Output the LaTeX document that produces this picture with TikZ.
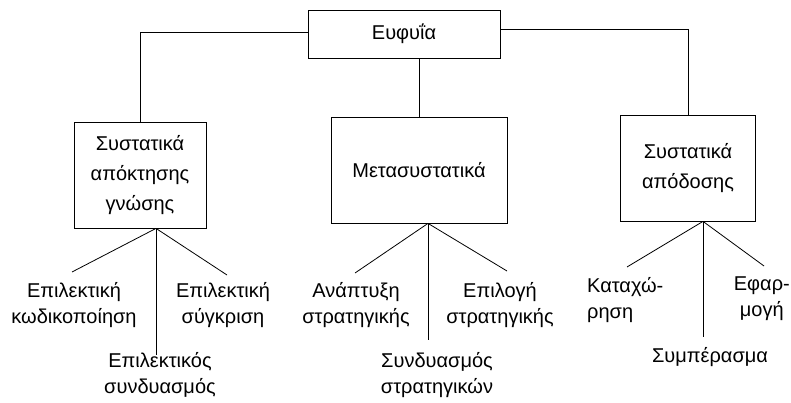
\documentclass[tikz,border=0pt]{standalone}
\usepackage{fontspec}
\setmainfont{Liberation Sans}
\usetikzlibrary{positioning}
\newcommand{\boxfont}{\fontsize{20}{30}\selectfont}
\newcommand{\leaffont}{\fontsize{20}{26}\selectfont}
\tikzset{
  box/.style={draw,line width=0.8pt,minimum height=106pt,align=center,inner sep=3pt,font=\boxfont},
  leaf/.style={align=center,inner sep=0pt,font=\leaffont},
  ln/.style={line width=0.8pt}
}

\begin{document}
\begin{tikzpicture}[x=1pt,y=-1pt]
\useasboundingbox (0,0) rectangle (791,403);
% top and the three groups
\node[box,minimum width=192pt,minimum height=48pt] (top) at (404,34) {Ευφυΐα};
\node[box,minimum width=132pt] (lbox) at (140,175) {Συστατικά\\απόκτησης\\γνώσης};
\node[box,minimum width=176pt] (mbox) at (419,170) {Μετασυστατικά};
\node[box,minimum width=135pt] (rbox) at (688,168) {Συστατικά\\απόδοσης};
\draw[ln] ([yshift=2pt]top.west) -| (lbox.north);
\draw[ln] ([yshift=5pt]top.east) -| (rbox.north);
\draw[ln] (top.south -| mbox.north) -- (mbox.north);
% leaves
\node[leaf] (ta) at (74,305) {Επιλεκτική\\κωδικοποίηση};
\node[leaf] (tb) at (223,305) {Επιλεκτική\\σύγκριση};
\node[leaf] (tc) at (160,375) {Επιλεκτικός\\συνδυασμός};
\node[leaf] (td) at (356,305) {Ανάπτυξη\\στρατηγικής};
\node[leaf] (te) at (500,305) {Επιλογή\\στρατηγικής};
\node[leaf] (tf) at (437,375) {Συνδυασμός\\στρατηγικών};
\node[leaf,align=left,anchor=west] (tg) at (587,300) {Καταχώ-\\ρηση};
\node[leaf,anchor=east] (th) at (790,299) {Εφαρ-\\μογή};
\node[leaf] (ti) at (710,357) {Συμπέρασμα};
% fans
\coordinate (fa) at ([xshift=16pt]lbox.south);
\coordinate (fb) at ([xshift=9pt]mbox.south);
\coordinate (fc) at ([xshift=15pt]rbox.south);
\coordinate (fa1) at (72,272);  \coordinate (fa2) at (227,275); \coordinate (fa3) at (fa |- 0,355);
\coordinate (fb1) at (355,273); \coordinate (fb2) at (507,271); \coordinate (fb3) at (fb |- 0,340);
\coordinate (fc1) at (627,267); \coordinate (fc2) at (764,266); \coordinate (fc3) at (fc |- 0,337);
\foreach \f in {fa,fb,fc}{
  \foreach \i in {1,2,3}{\draw[ln] (\f) -- (\f\i);}
}
\end{tikzpicture}
\end{document}
